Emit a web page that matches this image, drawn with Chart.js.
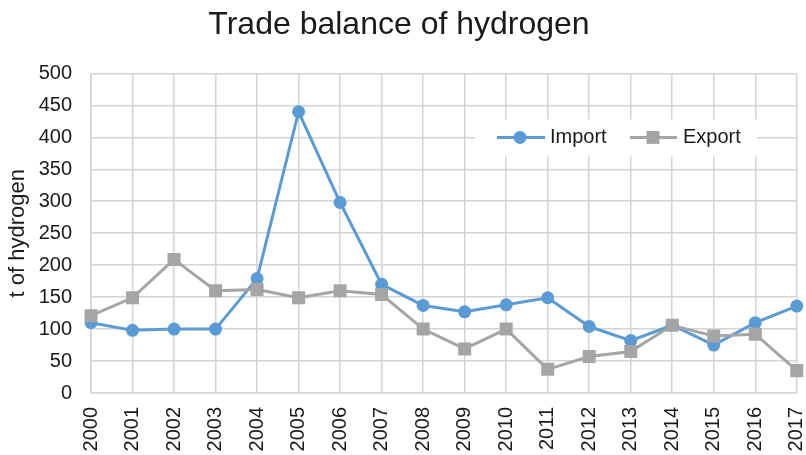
<!DOCTYPE html>
<html>
<head>
<meta charset="utf-8">
<script src="https://cdn.jsdelivr.net/npm/chart.js@4"></script>
<style>
    body { margin: 0; background: #fff; }
    #wrap { width: 806px; height: 455px; }
</style>
</head>
<body>
<div id="wrap"><canvas id="tradeChart"></canvas></div>
<script>
const years = ["2000","2001","2002","2003","2004","2005","2006","2007","2008",
               "2009","2010","2011","2012","2013","2014","2015","2016","2017"];
const importValues = [110, 98, 100, 100, 179, 440, 298, 170, 137, 127, 138, 149, 104, 82, 106, 75, 110, 136];
const exportValues = [121, 149, 209, 160, 162, 149, 160, 154, 100, 69, 100, 37, 57, 65, 106, 89, 92, 35];
const yTicks = [0, 50, 100, 150, 200, 250, 300, 350, 400, 450, 500];

const blue = "#5B9BD5";
const grey = "#A5A5A5";
const textColor = "#1a1a1a";
const gridColor = "#D4D4D4";

// legend drawn inside the plot, like the original
const insideLegend = {
    id: "insideLegend",
    afterDatasetsDraw(chart) {
        const ctx = chart.ctx;
        const a = chart.chartArea;
        const x0 = a.left + 384;
        const y0 = a.top + 46;
        const cy = y0 + 18;

        ctx.save();
        ctx.fillStyle = "#fff";
        ctx.fillRect(x0, y0, 282, 37);

        ctx.lineWidth = 3;
        ctx.strokeStyle = blue;
        ctx.beginPath();
        ctx.moveTo(x0 + 22, cy);
        ctx.lineTo(x0 + 70, cy);
        ctx.stroke();
        ctx.fillStyle = blue;
        ctx.beginPath();
        ctx.arc(x0 + 45, cy, 6.5, 0, Math.PI * 2);
        ctx.fill();

        ctx.strokeStyle = grey;
        ctx.beginPath();
        ctx.moveTo(x0 + 155, cy);
        ctx.lineTo(x0 + 202, cy);
        ctx.stroke();
        ctx.fillStyle = grey;
        ctx.fillRect(x0 + 178 - 6.5, cy - 6.5, 13, 13);

        ctx.fillStyle = textColor;
        ctx.font = "20px 'Liberation Sans', Arial, sans-serif";
        ctx.textBaseline = "middle";
        ctx.fillText("Import", x0 + 75, cy);
        ctx.fillText("Export", x0 + 208, cy);
        ctx.restore();
    }
};

new Chart(document.getElementById("tradeChart"), {
    type: "line",
    data: {
        labels: years,
        datasets: [{
            label: "Import",
            data: importValues,
            borderColor: blue,
            backgroundColor: blue,
            borderWidth: 3,
            pointStyle: "circle",
            pointRadius: 6.5,
            pointBorderWidth: 0,
            order: 1
        }, {
            label: "Export",
            data: exportValues,
            borderColor: grey,
            backgroundColor: grey,
            borderWidth: 3,
            pointStyle: "rect",
            pointRadius: 9.2,
            pointBorderWidth: 0,
            order: 0
        }]
    },
    options: {
        responsive: true,
        maintainAspectRatio: false,
        animation: false,
        layout: { padding: { left: 0, right: 8, top: 0, bottom: 0 } },
        plugins: {
            legend: { display: false },
            tooltip: { enabled: false },
            title: {
                display: true,
                text: "Trade balance of hydrogen",
                color: textColor,
                font: { family: "'Liberation Sans', Arial, sans-serif", size: 32, weight: "normal" },
                padding: { top: 6, bottom: 29 }
            }
        },
        scales: {
            x: {
                offset: false,
                grid: { color: gridColor, lineWidth: 1.5, drawTicks: false },
                border: { color: gridColor, width: 1.5 },
                ticks: {
                    color: textColor,
                    font: { family: "'Liberation Sans', Arial, sans-serif", size: 20 },
                    maxRotation: 90,
                    minRotation: 90,
                    padding: 14,
                    autoSkip: false
                },
                afterFit(s) {
                    s.height = 62;
                    s.paddingLeft = 0;
                    s.paddingRight = 0;
                }
            },
            y: {
                min: 0,
                max: 500,
                grid: { color: gridColor, lineWidth: 1.5, drawTicks: false },
                border: { color: gridColor, width: 1.5 },
                afterBuildTicks(s) {
                    s.ticks = yTicks.map(v => ({ value: v }));
                },
                ticks: {
                    color: textColor,
                    font: { family: "'Liberation Sans', Arial, sans-serif", size: 20 },
                    padding: 19
                },
                title: {
                    display: true,
                    text: "t of hydrogen",
                    color: textColor,
                    font: { family: "'Liberation Sans', Arial, sans-serif", size: 22 },
                    padding: { top: 5, bottom: 0 }
                },
                afterFit(s) {
                    s.width = 91;
                }
            }
        }
    },
    plugins: [insideLegend]
});
</script>
</body>
</html>
